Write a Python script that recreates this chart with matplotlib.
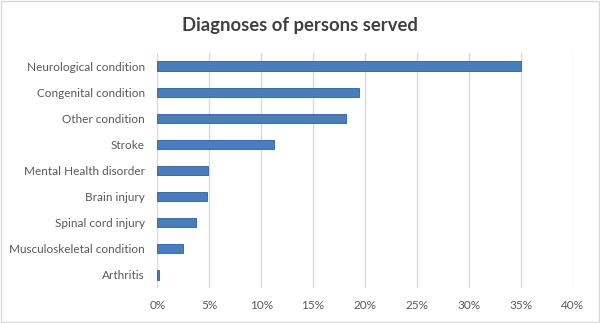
import numpy as np
import matplotlib.pyplot as plt
from matplotlib.patches import Rectangle
from matplotlib.ticker import FuncFormatter

plt.rcParams['font.family'] = ['Lato', 'DejaVu Sans']

# dati
categorie = ['Neurological condition', 'Congenital condition', 'Other condition',
             'Stroke', 'Mental Health disorder', 'Brain injury',
             'Spinal cord injury', 'Musculoskeletal condition', 'Arthritis']
valori = [0.350, 0.194, 0.182, 0.112, 0.049, 0.048, 0.037, 0.025, 0.002]
xticks = [0, 0.05, 0.10, 0.15, 0.20, 0.25, 0.30, 0.35, 0.40]

fig = plt.figure(figsize=(6, 3.23), dpi=100)
ax = fig.add_axes([0.2622, 0.1084, 0.6923, 0.7276])

y = np.arange(len(categorie))
ax.barh(y, valori, height=0.35, color='#4A7EBB', edgecolor='#3B6CA8', linewidth=0.7, zorder=3)

ax.set_xlim(0, 0.4)
ax.set_ylim(len(categorie) - 0.5, -0.5)
ax.set_xticks(xticks)
ax.xaxis.set_major_formatter(FuncFormatter(lambda v, p: f'{v*100:.0f}%'))
ax.set_yticks(y)
ax.set_yticklabels(categorie)
ax.tick_params(axis='both', length=0, labelsize=8.5, colors='#595959')
ax.tick_params(axis='y', pad=9)
ax.tick_params(axis='x', pad=9)
ax.grid(axis='x', color='#D9D9D9', linewidth=1.0, zorder=0)
for s in ax.spines.values():
    s.set_visible(False)

fig.text(0.5, 1 - 31/323, 'Diagnoses of persons served', ha='center', va='baseline',
         fontsize=13.3, fontweight='bold', color='#404040')

# bordo
fig.patches.append(Rectangle((0.001, 0.002), 0.997, 0.995, transform=fig.transFigure,
                             fill=False, edgecolor='#D9D9D9', linewidth=1.0))

fig.savefig('out.png', dpi=100)
